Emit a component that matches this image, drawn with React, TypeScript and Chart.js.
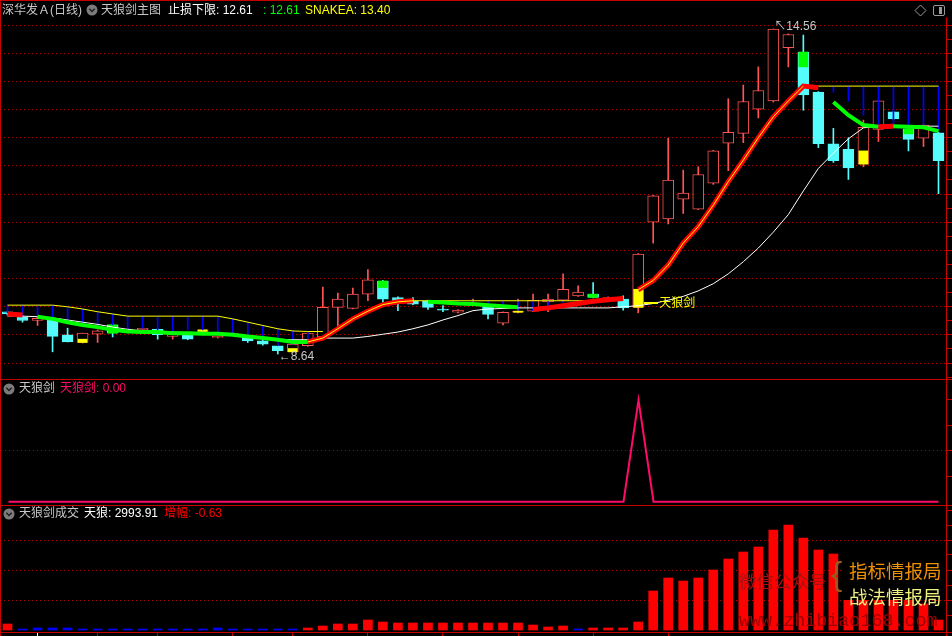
import React, { useEffect, useRef, useState } from 'react';
import { Chart, registerables } from 'chart.js';

Chart.register(...registerables);

// ---------- categories ----------
const days = Array.from({ length: 63 }, (_, i) => `D${i + 1}`);
// candles that carry a time-axis tick mark (white = first one)
const timeTicks = [6, 10, 15, 19, 24, 29, 34, 39, 44];
const timeTickWhite = [2];

// ---------- price candles ----------
const open = [9.41, 9.31, 9.25, 9.29, 8.99, 8.85, 9.00, 9.17, 9.06, 9.08,
  9.09, 8.96, 8.99, 9.05, 8.94, 9.00, 8.95, 8.88, 8.79, 8.68,
  8.79, 8.95, 9.49, 9.47, 9.73, 9.97, 9.67, 9.61, 9.61, 9.45,
  9.40, 9.53, 9.52, 9.20, 9.40, 9.42, 9.59, 9.62, 9.70, 9.73,
  9.61, 9.64, 9.49, 11.04, 11.10, 11.46, 11.28, 11.75, 12.48, 12.66,
  13.10, 13.25, 14.22, 14.14, 13.41, 12.47, 12.37, 12.10, 12.73, 13.05,
  12.74, 12.57, 12.67];
const high = [9.42, 9.33, 9.31, 9.30, 9.11, 9.02, 9.08, 9.19, 9.10, 9.11,
  9.10, 9.01, 9.00, 9.08, 8.97, 9.03, 8.97, 8.89, 8.80, 8.83,
  9.02, 9.86, 9.75, 9.84, 10.18, 9.98, 9.68, 9.67, 9.62, 9.52,
  9.45, 9.64, 9.53, 9.41, 9.64, 9.73, 9.73, 10.10, 9.88, 9.94,
  9.68, 9.70, 10.47, 11.53, 12.57, 11.99, 12.05, 12.35, 13.29, 13.54,
  13.87, 14.56, 14.47, 14.45, 13.42, 12.75, 12.58, 12.90, 13.26, 13.06,
  12.75, 12.82, 12.68];
const low = [9.35, 9.22, 9.16, 8.68, 8.86, 8.84, 8.85, 8.95, 9.04, 9.07,
  8.91, 8.91, 8.90, 9.04, 8.93, 8.99, 8.85, 8.80, 8.64, 8.67,
  8.78, 8.94, 9.14, 9.46, 9.61, 9.58, 9.43, 9.54, 9.45, 9.41,
  9.39, 9.52, 9.28, 9.17, 9.39, 9.41, 9.41, 9.61, 9.69, 9.66,
  9.60, 9.44, 9.39, 10.66, 11.01, 11.20, 11.27, 11.73, 11.98, 12.49,
  12.94, 13.23, 13.87, 13.08, 12.40, 12.13, 11.82, 12.05, 12.51, 12.91,
  12.34, 12.42, 11.56];
const close = [9.37, 9.25, 9.29, 8.96, 8.86, 9.02, 9.06, 9.02, 9.07, 9.11,
  8.99, 9.00, 8.91, 9.08, 8.96, 9.02, 8.88, 8.82, 8.70, 8.82,
  9.02, 9.49, 9.64, 9.73, 9.99, 9.64, 9.61, 9.55, 9.49, 9.44,
  9.44, 9.56, 9.36, 9.40, 9.42, 9.62, 9.64, 9.82, 9.77, 9.67,
  9.67, 9.48, 10.46, 11.52, 11.81, 11.57, 11.91, 12.34, 12.68, 13.24,
  13.44, 14.56, 14.46, 13.36, 12.47, 12.16, 12.03, 12.77, 13.25, 12.92,
  12.55, 12.81, 12.16];

// ---------- overlay indicator lines ----------
const trendLine = [9.37, 9.35, 9.32, 9.28, 9.22, 9.17, 9.13, 9.08, 9.05, 9.04,
  9.04, 9.02, 9.02, 9.01, 9.01, 8.99, 8.96, 8.93, 8.90, 8.86,
  8.86, 8.93, 9.10, 9.28, 9.42, 9.54, 9.59, 9.61, 9.59, 9.58,
  9.56, 9.55, 9.53, 9.51, 9.49, 9.45, 9.48, 9.52, 9.56, 9.60,
  9.63, 9.65, 9.81, 9.98, 10.26, 10.66, 10.96, 11.35, 11.78, 12.17,
  12.58, 12.96, 13.25, 13.52, 13.49, 13.23, 12.99, 12.81, 12.78, 12.79,
  12.78, 12.77, 12.70];
// state of the segment that ends at each index: r = red, R = red with yellow core, g = green, - = hidden
const trendState = '-r-' + 'gggggggggggggggggg' + 'RRRRRRR' + '-' + 'gggggg' + '-' + 'rrrrrr' + '-'
  + 'RRRRRRRRRRR' + 'r' + '-' + 'ggg' + 'r' + 'ggg';
const whiteLine = [9.33, 9.33, 9.32, 9.30, 9.26, 9.22, 9.18, 9.13, 9.09, 9.06,
  9.05, 9.04, 9.03, 9.02, 9.01, 8.99, 8.96, 8.93, 8.91, 8.90,
  8.90, 8.93, 8.93, 8.93, 8.96, 9.00, 9.04, 9.10, 9.17, 9.26,
  9.34, 9.43, 9.46, 9.47, 9.48, 9.48, 9.48, 9.48, 9.48, 9.48,
  9.48, 9.50, 9.52, 9.56, 9.62, 9.69, 9.79, 9.92, 10.10, 10.32,
  10.57, 10.86, 11.18, 11.61, 12.02, 12.30, 12.56, 12.76, 12.79, 12.79,
  12.79, 12.79, 12.79];
const yellowLine = [9.53, 9.53, 9.53, 9.53, 9.50, 9.46, 9.41, 9.37, 9.33, 9.33,
  9.33, 9.33, 9.33, 9.33, 9.33, 9.28, 9.22, 9.16, 9.10, 9.06,
  9.05, 9.05, null, null, null, null, 9.61, 9.61, 9.61, 9.61,
  9.61, 9.61, 9.61, 9.61, 9.61, 9.61, 9.61, 9.61, 9.61, 9.61,
  9.64, 9.68, null, null, null, null, null, null, null, null,
  null, null, null, 13.52, 13.52, 13.52, 13.52, 13.52, 13.52, 13.52,
  13.52, 13.52, 13.52];
const stickLow = [9.39, 9.33, 9.35, 9.30, 9.23, 9.21, 9.14, 9.17, 9.08, 9.11,
  9.08, 9.06, 9.08, 9.08, 9.02, 9.02, 8.99, 8.90, 8.79, 8.82,
  8.84, null, null, null, null, null, null, null, null, null,
  9.55, 9.55, 9.52, 9.49, 9.44, 9.43, 9.49, 9.58, null, null,
  null, null, null, null, null, null, null, null, null, null,
  null, null, null, null, null, 13.41, 13.25, 12.99, 12.79, 12.79,
  12.79, 12.81, 12.72];
const yellowBox = [null, null, null, null, null, [8.85, 8.91], null, null, [9.06, 9.07], null,
  null, null, null, [9.05, 9.08], null, null, null, null, null, [8.68, 8.74],
  null, null, null, null, null, null, null, null, null, null,
  null, null, null, null, [9.40, 9.42], null, null, null, null, null,
  null, null, [9.49, 9.82], null, null, null, null, null, null, null,
  null, null, null, null, null, null, null, [12.10, 12.34], null, null,
  null, null, null];
const greenBox = [null, null, null, null, null, null, null, [9.02, 9.17], null, null,
  null, null, null, null, null, null, null, null, null, null,
  null, null, null, null, null, [9.85, 9.97], null, null, null, null,
  null, null, null, null, null, null, null, null, null, [9.67, 9.73],
  null, null, null, null, null, null, null, null, null, null,
  null, null, null, [13.87, 14.14], null, null, null, null, null, null,
  [12.65, 12.74], null, null];
const priceGrid = [14.633, 14.120, 13.607, 13.094, 12.581, 12.068, 11.554, 11.041, 10.528, 10.015, 9.502, 8.989, 8.476];
const priceTicks = [14.633, 14.376, 14.120, 13.863, 13.607, 13.350, 13.094, 12.837, 12.581, 12.324,
  12.068, 11.811, 11.554, 11.298, 11.041, 10.785, 10.528, 10.271, 10.015, 9.758,
  9.502, 9.245, 8.989, 8.732, 8.476, 8.219];

// ---------- 天狼剑 signal ----------
const sword = [0, 0, 0, 0, 0, 0, 0, 0, 0, 0, 0, 0, 0, 0, 0, 0, 0, 0, 0, 0,
  0, 0, 0, 0, 0, 0, 0, 0, 0, 0, 0, 0, 0, 0, 0, 0, 0, 0, 0, 0,
  0, 0, 1, 0, 0, 0, 0, 0, 0, 0, 0, 0, 0, 0, 0, 0, 0, 0, 0, 0,
  0, 0, 0];
const swordGrid = [0.5];
const swordTicks = [1, 0.75, 0.5, 0.25];

// ---------- 天狼剑成交 volume ----------
const volume = [1800, 300, 600, 600, 600, 300, 300, 300, 300, 300,
  300, 300, 300, 300, 600, 300, 300, 300, 300, 300,
  600, 1200, 1800, 1800, 3000, 2400, 2100, 2100, 2100, 2100,
  2100, 2100, 2100, 2100, 2100, 1500, 900, 1200, 300, 600,
  600, 600, 2400, 11700, 15600, 14700, 15600, 18000, 21300, 23400,
  24900, 30000, 31500, 27600, 24000, 22800, 19500, 16500, 13500, 12000,
  10500, 7800, 2993.91];
const volumeSide = 'r' + 'bbbbbbbbbbbbbbbbbbb' + 'rrrrrrrrrrrrrrrrrr' + 'b' + 'rrrrrrrrrrrrrrrrrrrrrrrr';
const volumeGrid = [9000, 18000, 27000];
const volumeTicks = [36000, 31500, 27000, 22500, 18000, 13500, 9000, 4500];

// ---------- styling ----------
const UP = '#ff5454';
const DOWN = '#54fcfc';
const GRID = '#b80000';
const FRAME = '#c80000';
const CANVAS_W = 952;
const CLEAR = 'rgba(0,0,0,0)';

function baseOptions(yMin: number, yMax: number, gridVals: number[], tickVals: number[], timeAxis = false): any {
  const isGrid = (v: number) => gridVals.some((g) => Math.abs(g - v) < 1e-6);
  return {
    responsive: false,
    maintainAspectRatio: false,
    animation: false,
    events: [],
    layout: { padding: 0 },
    plugins: { legend: { display: false }, tooltip: { enabled: false } },
    scales: {
      x: timeAxis
        ? {
          type: 'category', display: true, offset: true, position: 'bottom',
          ticks: { display: false },
          grid: {
            offset: false, drawOnChartArea: false, drawTicks: true, tickLength: 4,
            tickColor: (c: any) => (timeTicks.includes(c.index) ? FRAME : timeTickWhite.includes(c.index) ? '#ffffff' : CLEAR),
          },
          border: { display: false },
        }
        : { type: 'category', display: false, offset: true },
      y: {
        type: 'linear', display: true, position: 'right', min: yMin, max: yMax,
        afterBuildTicks: (s: any) => { s.ticks = tickVals.map((v) => ({ value: v })); },
        ticks: { display: false },
        grid: {
          drawTicks: true, tickLength: 6, tickColor: FRAME, lineWidth: 1,
          color: (c: any) => (c.tick && isGrid(c.tick.value) ? GRID : CLEAR),
        },
        border: { display: false, dash: [1, 3] },
      },
    },
  };
}

const Icon = ({ left, top }: { left: number; top: number }) => (
  <svg style={{ position: 'absolute', left, top }} width={12} height={12} viewBox="0 0 12 12">
    <circle cx={6} cy={6} r={5.5} fill="#7c7c7c" />
    <polyline points="3.3,4.8 6,7.5 8.7,4.8" fill="none" stroke="#202020" strokeWidth={1.5} />
  </svg>
);

const T = ({ left, top, color, children, size, font }: any) => (
  <span style={{
    position: 'absolute', left, top, color, whiteSpace: 'nowrap', lineHeight: '14px',
    fontSize: size || 12, fontFamily: font || '"Liberation Sans", "Noto Sans CJK SC", sans-serif',
  }}>{children}</span>
);

export default function App() {
  const topRef = useRef<HTMLCanvasElement>(null);
  const midRef = useRef<HTMLCanvasElement>(null);
  const botRef = useRef<HTMLCanvasElement>(null);
  const [marks, setMarks] = useState<any>(null);

  useEffect(() => {
    const isUp = close.map((c, i) => c >= open[i]);
    const bodies = open.map((o, i) => [o, close[i]]);
    const wicks = low.map((l, i) => [l, high[i]]);
    const sticks = stickLow.map((v, i) => (v == null || yellowLine[i] == null ? null : [v, yellowLine[i]]));
    const segColor = (k: string) => (k === 'g' ? '#00ff00' : k === 'r' || k === 'R' ? '#ff0000' : CLEAR);

    const topChart = new Chart(topRef.current as HTMLCanvasElement, {
      type: 'bar',
      data: {
        labels: days,
        datasets: [
          {
            type: 'line', data: trendLine, borderColor: CLEAR, borderWidth: 1, pointRadius: 0,
            segment: { borderColor: (c: any) => (trendState[c.p1DataIndex] === 'R' ? '#ffff00' : CLEAR) },
            order: 0,
          },
          {
            type: 'line', data: trendLine, borderColor: '#ff0000', borderWidth: 5, pointRadius: 0,
            borderCapStyle: 'butt',
            segment: {
              borderColor: (c: any) => segColor(trendState[c.p1DataIndex]),
              borderWidth: (c: any) => (trendState[c.p1DataIndex] === 'g' ? 4 : 5),
            },
            order: 1,
          },
          { type: 'line', data: yellowLine, borderColor: '#ffff00', borderWidth: 1, pointRadius: 0, order: 2 },
          { type: 'line', data: whiteLine, borderColor: '#ffffff', borderWidth: 1, pointRadius: 0, order: 3 },
          { type: 'bar', data: sticks, backgroundColor: '#0000ff', barThickness: 1, grouped: false, order: 4 },
          { type: 'bar', data: yellowBox, backgroundColor: '#ffff00', barThickness: 9, grouped: false, minBarLength: 1, order: 5 },
          { type: 'bar', data: greenBox, backgroundColor: '#00ff00', barThickness: 9, grouped: false, minBarLength: 1, order: 6 },
          {
            type: 'bar', data: bodies, grouped: false, barThickness: 11, minBarLength: 1,
            backgroundColor: isUp.map((u) => (u ? '#000000' : DOWN)),
            borderColor: isUp.map((u) => (u ? UP : DOWN)),
            borderWidth: 1, borderSkipped: false, order: 7,
          },
          {
            type: 'bar', data: wicks, grouped: false, barThickness: 1,
            backgroundColor: isUp.map((u) => (u ? UP : DOWN)), order: 8,
          },
        ] as any,
      },
      options: baseOptions(8.203, 15.052, priceGrid, priceTicks),
    });

    const midChart = new Chart(midRef.current as HTMLCanvasElement, {
      type: 'line',
      data: {
        labels: days,
        datasets: [{ data: sword, borderColor: '#ff0a6a', borderWidth: 2, pointRadius: 0 }],
      },
      options: { ...baseOptions(-0.0222, 1.1867, swordGrid, swordTicks), },
    });
    // line chart: keep category points centred like the bar panels
    (midChart.options.scales as any).x.offset = true;
    midChart.update();

    const botChart = new Chart(botRef.current as HTMLCanvasElement, {
      type: 'bar',
      data: {
        labels: days,
        datasets: [{
          data: volume, barThickness: 9,
          backgroundColor: volume.map((_, i) => (volumeSide[i] === 'b' ? '#0000ff' : '#ff0000')),
        }],
      },
      options: baseOptions(-600, 37200, volumeGrid, volumeTicks, true),
    });

    const xs = topChart.scales.x;
    const ys = topChart.scales.y;
    const hiIdx = high.indexOf(Math.max(...high));
    const loIdx = low.indexOf(Math.min(...low));
    const sigIdx = sword.indexOf(1);
    setMarks({
      hi: { x: xs.getPixelForValue(hiIdx), y: ys.getPixelForValue(high[hiIdx]), v: high[hiIdx] },
      lo: { x: xs.getPixelForValue(loIdx), y: ys.getPixelForValue(low[loIdx]), v: low[loIdx] },
      sig: { x: xs.getPixelForValue(sigIdx), y: ys.getPixelForValue(open[sigIdx]) },
    });

    return () => { topChart.destroy(); midChart.destroy(); botChart.destroy(); };
  }, []);

  const TOPY = 2;
  return (
    <div style={{
      position: 'fixed', left: 0, top: 0, width: 952, height: 636, background: '#000', overflow: 'hidden',
      fontFamily: '"Liberation Sans", "Noto Sans CJK SC", sans-serif', fontSize: 12,
    }}>
      <canvas ref={topRef} width={CANVAS_W} height={376} style={{ position: 'absolute', left: 0, top: TOPY, display: 'block' }} />
      <canvas ref={midRef} width={CANVAS_W} height={125} style={{ position: 'absolute', left: 0, top: 380, display: 'block' }} />
      <canvas ref={botRef} width={CANVAS_W} height={130} style={{ position: 'absolute', left: 0, top: 506, display: 'block' }} />

      {/* frames */}
      <div style={{ position: 'absolute', left: 0, top: 0, width: 952, height: 1, background: FRAME }} />
      <div style={{ position: 'absolute', left: 0, top: 0, width: 1, height: 636, background: FRAME }} />
      <div style={{ position: 'absolute', left: 946, top: 17, width: 1, height: 619, background: FRAME }} />
      <div style={{ position: 'absolute', left: 0, top: 379, width: 952, height: 1, background: FRAME }} />
      <div style={{ position: 'absolute', left: 0, top: 505, width: 952, height: 1, background: FRAME }} />
      <div style={{ position: 'absolute', left: 0, top: 632, width: 952, height: 1, background: FRAME }} />

      {/* top title */}
      <T left={2} top={3} color="#c8c8c8">深华发Ａ(日线)</T>
      <Icon left={86} top={4} />
      <T left={101} top={3} color="#c8c8c8">天狼剑主图</T>
      <T left={168} top={3} color="#ffffff">止损下限: 12.61</T>
      <T left={263} top={3} color="#00ff00">: 12.61</T>
      <T left={305} top={3} color="#ffff00">SNAKEA: 13.40</T>
      <svg style={{ position: 'absolute', left: 914, top: 4 }} width={13} height={13} viewBox="0 0 13 13">
        <polygon points="6.5,1 12,6.5 6.5,12 1,6.5" fill="none" stroke="#9a9a9a" strokeWidth={1} />
      </svg>
      <svg style={{ position: 'absolute', left: 932, top: 4 }} width={14} height={13} viewBox="0 0 14 13">
        <rect x={1.5} y={1.5} width={11} height={10} rx={1.5} fill="none" stroke="#9a9a9a" strokeWidth={1} />
        <rect x={7} y={3} width={3} height={7} fill="#9a9a9a" />
      </svg>

      {/* mid title */}
      <Icon left={2.5} top={382.5} />
      <T left={19} top={381} color="#c8c8c8">天狼剑</T>
      <T left={60} top={381} color="#ff0a6a">天狼剑: 0.00</T>

      {/* bottom title */}
      <Icon left={2.5} top={507.5} />
      <T left={19} top={506} color="#c8c8c8">天狼剑成交</T>
      <T left={84} top={506} color="#ffffff">天狼: 2993.91</T>
      <T left={164} top={506} color="#ff0000">增幅: -0.63</T>

      {/* annotations */}
      {marks && (
        <>
          <T left={marks.hi.x + 1} top={TOPY + marks.hi.y - 10} color="#c8c8c8">{'↖' + marks.hi.v.toFixed(2)}</T>
          <T left={marks.lo.x + 1} top={TOPY + marks.lo.y - 5} color="#c8c8c8">{'←' + marks.lo.v.toFixed(2)}</T>
          <div style={{ position: 'absolute', left: marks.sig.x + 6, top: TOPY + marks.sig.y - 5, width: 14, height: 2, background: '#ffff00' }} />
          <T left={marks.sig.x + 21} top={TOPY + marks.sig.y - 11} color="#ffff00">天狼剑</T>
        </>
      )}

      {/* watermark */}
      <T left={739} top={574} color="#a81010" size={17.5} font='"Noto Sans CJK SC", sans-serif'>微信公众号</T>
      <div style={{ position: 'absolute', left: 843, top: 555, width: 103, height: 45, background: '#000' }} />
      <T left={831} top={566} color="#9a5a20" size={34} font='"Liberation Sans", sans-serif'>{'{'}</T>
      <T left={849} top={563} color="#f09000" size={18.5} font='"Noto Sans CJK SC", sans-serif'>指标情报局</T>
      <T left={849} top={589} color="#f0f080" size={18.5} font='"Noto Sans CJK SC", sans-serif'>战法情报局</T>
      <T left={739} top={615} color="#a00000" size={18.4} font='"Liberation Mono", monospace'>www.zhibiao168.com</T>
    </div>
  );
}
